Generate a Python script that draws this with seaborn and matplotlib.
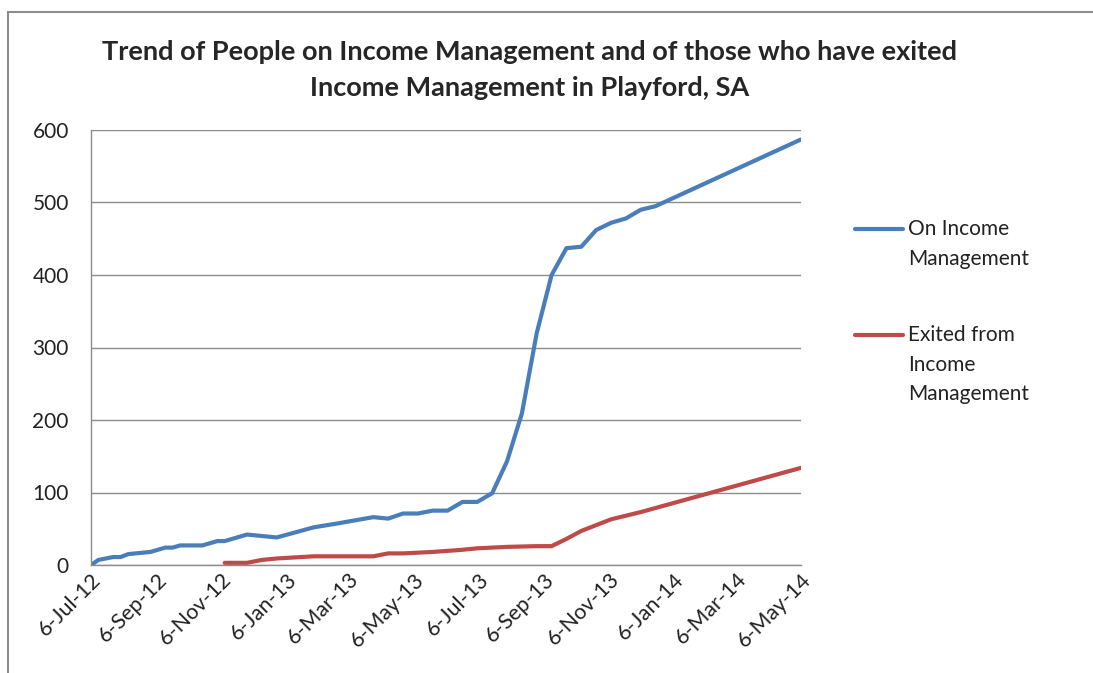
import pandas as pd
import matplotlib.pyplot as plt
import matplotlib.patches as mpatches
from matplotlib.lines import Line2D
import seaborn as sns

# Data
on_im_dates = ['2012-07-06', '2012-07-13', '2012-07-27', '2012-08-03', '2012-08-10', '2012-08-17',
               '2012-08-31', '2012-09-14', '2012-09-21', '2012-09-28', '2012-10-19', '2012-11-02',
               '2012-11-09', '2012-11-30', '2012-12-28', '2013-02-01', '2013-02-22', '2013-03-29',
               '2013-04-12', '2013-04-26', '2013-05-10', '2013-05-24', '2013-06-07', '2013-06-21',
               '2013-07-05', '2013-07-19', '2013-08-02', '2013-08-16', '2013-08-30', '2013-09-13',
               '2013-09-27', '2013-10-11', '2013-10-25', '2013-11-08', '2013-11-22', '2013-12-06',
               '2013-12-20', '2014-05-06']
on_im_values = [0, 7, 11, 11, 15, 16, 18, 24, 24, 27, 27, 33, 33, 42, 38, 52, 57, 66, 64, 71, 71,
                75, 75, 87, 87, 99, 143, 209, 320, 400, 437, 439, 462, 472, 478, 490, 495, 587]

exited_dates = ['2012-11-09', '2012-11-30', '2012-12-14', '2012-12-28', '2013-02-01', '2013-03-29',
                '2013-04-12', '2013-04-26', '2013-05-24', '2013-06-21', '2013-07-05', '2013-08-02',
                '2013-08-30', '2013-09-13', '2013-09-27', '2013-10-11', '2013-11-08', '2013-12-06',
                '2014-05-06']
exited_values = [3, 3, 7, 9, 12, 12, 16, 16, 18, 21, 23, 25, 26, 26, 36, 47, 63, 73, 134]

series_labels = ['On Income\nManagement', 'Exited from\nIncome\nManagement']
series_colors = ['#4a7ebb', '#be4b48']
tick_dates = ['2012-07-06', '2012-09-06', '2012-11-06', '2013-01-06', '2013-03-06', '2013-05-06',
              '2013-07-06', '2013-09-06', '2013-11-06', '2014-01-06', '2014-03-06', '2014-05-06']
tick_labels = ['6-Jul-12', '6-Sep-12', '6-Nov-12', '6-Jan-13', '6-Mar-13', '6-May-13',
               '6-Jul-13', '6-Sep-13', '6-Nov-13', '6-Jan-14', '6-Mar-14', '6-May-14']

df = pd.concat([
    pd.DataFrame({'date': pd.to_datetime(on_im_dates), 'value': on_im_values, 'series': series_labels[0]}),
    pd.DataFrame({'date': pd.to_datetime(exited_dates), 'value': exited_values, 'series': series_labels[1]}),
])

sns.set_style('white')
plt.rcParams['font.family'] = ['Lato', 'DejaVu Sans']

W, H = 1093, 673
fig = plt.figure(figsize=(W / 100, H / 100), dpi=100)
ax = fig.add_axes([91 / W, 108 / H, 710 / W, 435 / H])

# outer chart border (cut off at right/bottom like the screenshot)
fig.patches.append(mpatches.Rectangle((8 / W, -0.05), 1.2, 1 - 12 / H + 0.05,
                                      transform=fig.transFigure, fill=False,
                                      edgecolor='#8c8c8c', linewidth=1.5))

sns.lineplot(data=df, x='date', y='value', hue='series', estimator=None,
             palette=series_colors, linewidth=3, ax=ax, legend=False)

ax.set_xlim(pd.Timestamp('2012-07-06'), pd.Timestamp('2014-05-06'))
ax.set_ylim(0, 600)
ax.set_yticks(range(0, 601, 100))
ax.set_xticks(pd.to_datetime(tick_dates))
ax.set_xticklabels(tick_labels, rotation=45, ha='right', va='top', rotation_mode='anchor')
ax.tick_params(axis='both', length=0, colors='#222222')
ax.tick_params(axis='x', pad=3, labelsize=15.5)
ax.tick_params(axis='y', pad=16, labelsize=15)
ax.set_xlabel('')
ax.set_ylabel('')
ax.grid(axis='y', color='#8c8c8c', linewidth=1)
ax.set_axisbelow(True)
for side in ['top', 'right']:
    ax.spines[side].set_visible(False)
for side in ['left', 'bottom']:
    ax.spines[side].set_color('#8c8c8c')
    ax.spines[side].set_linewidth(1)

# Excel-style legend: sample line aligned with the first text line
for label, color, y in zip(series_labels, series_colors, [229, 335]):
    fig.add_artist(Line2D([855 / W, 903 / W], [1 - y / H, 1 - y / H], color=color,
                          linewidth=3, transform=fig.transFigure))
    fig.text(908 / W, 1 - (y - 10) / H, label, ha='left', va='top', fontsize=15,
             linespacing=1.6, color='#222222')

fig.text(530 / W, 1 - 52 / H, 'Trend of People on Income Management and of those who have exited',
         ha='center', va='center', fontsize=19.5, fontweight='bold')
fig.text(530 / W, 1 - 88 / H, 'Income Management in Playford, SA',
         ha='center', va='center', fontsize=19.5, fontweight='bold')

plt.savefig('out.png', dpi=100)
